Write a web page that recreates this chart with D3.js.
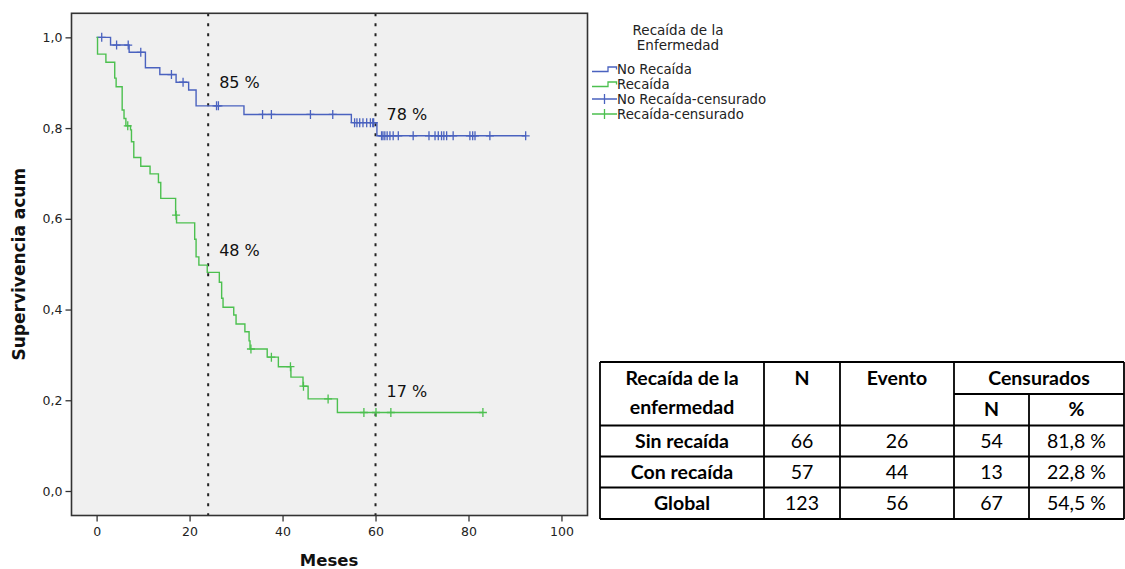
<!DOCTYPE html>
<html>
<head>
<meta charset="utf-8">
<script src="https://cdn.jsdelivr.net/npm/d3@7"></script>
<style>
  body { margin: 0; background: #ffffff; }
  svg { display: block; }
</style>
</head>
<body>
<div id="chart"></div>
<script>
// ---- data ----
const noRecaidaTimes = [0, 3.0, 7.0, 10.5, 13.6, 17.1, 19.8, 21.4, 31.7, 54.8, 60.3];
const noRecaidaSurv  = [1.0, 0.983, 0.967, 0.933, 0.918, 0.901, 0.884, 0.849, 0.830, 0.812, 0.783];
const noRecaidaEnd = 92.3;
const noRecaidaCens = [1.1, 4.3, 6.8, 9.5, 16.1, 18.6, 25.8, 26.2, 35.7, 37.6, 46.0, 50.8,
  55.5, 56.0, 56.6, 57.3, 58.1, 58.9, 59.4, 59.6, 61.3, 61.6, 62.0, 62.5, 63.1, 63.8, 64.9,
  68.1, 71.5, 72.8, 73.5, 74.2, 74.7, 75.3, 76.7, 80.3, 80.9, 81.4, 84.6, 92.3];

const recaidaTimes = [0, 0.2, 2.0, 3.9, 4.2, 5.5, 5.9, 6.3, 7.3, 7.5, 8.0, 9.5, 11.5, 13.3, 13.8,
  17.0, 17.2, 21.1, 21.4, 22.0, 23.8, 26.4, 26.9, 27.2, 29.5, 30.0, 31.9, 32.8, 33.0, 36.7,
  39.1, 41.8, 44.4, 45.5, 51.8];
const recaidaSurv = [1.0, 0.963, 0.945, 0.910, 0.891, 0.840, 0.821, 0.805, 0.796, 0.770, 0.735,
  0.716, 0.699, 0.680, 0.645, 0.608, 0.591, 0.555, 0.516, 0.498, 0.482, 0.460, 0.425, 0.405,
  0.388, 0.368, 0.351, 0.331, 0.313, 0.295, 0.274, 0.251, 0.231, 0.203, 0.173];
const recaidaEnd = 83.1;
const recaidaCens = [6.7, 17.1, 33.2, 37.6, 41.7, 44.5, 49.8, 57.5, 60.1, 63.3, 83.1];

const xTicks = [0, 20, 40, 60, 80, 100];
const yTicks = [0, 0.2, 0.4, 0.6, 0.8, 1.0];
const refMonths = [24, 60];
const annotations = [
  {t: 24, s: 0.85, label: "85 %"},
  {t: 60, s: 0.78, label: "78 %"},
  {t: 24, s: 0.48, label: "48 %"},
  {t: 60, s: 0.17, label: "17 %"}
];

const legendTitle = ["Recaída de la", "Enfermedad"];
const legendLabels = ["No Recaída", "Recaída", "No Recaída-censurado", "Recaída-censurado"];

const tableGroups = ["Sin recaída", "Con recaída", "Global"];
const tableN = [66, 57, 123];
const tableEvento = [26, 44, 56];
const tableCensN = [54, 13, 67];
const tableCensPct = ["81,8 %", "22,8 %", "54,5 %"];

// ---- setup ----
const width = 1125, height = 569;
const margin = {top: 13.3, left: 71.5};
const plotWidth = 516, plotHeight = 502.2;
const BLUE = "#4a62bf", GREEN = "#4cc04f";
const FONT = "'DejaVu Sans', sans-serif";

const svg = d3.select("#chart").append("svg")
    .attr("width", width)
    .attr("height", height);

const xScale = d3.scaleLinear().domain([-5.4, 105.6]).range([0, plotWidth]);
const yScale = d3.scaleLinear().domain([-0.054, 1.053]).range([plotHeight, 0]);

const plot = svg.append("g")
    .attr("transform", `translate(${margin.left}, ${margin.top})`);

plot.append("rect")
    .attr("width", plotWidth)
    .attr("height", plotHeight)
    .attr("fill", "#f0f0f0");

// axes
const fmtComma = d => d3.format(".1f")(d).replace(".", ",");

plot.append("g")
    .attr("transform", `translate(0, ${plotHeight})`)
    .call(d3.axisBottom(xScale).tickValues(xTicks).tickSize(6).tickPadding(6).tickFormat(d3.format("d")))
    .call(g => g.select(".domain").remove())
    .call(g => g.selectAll("line").attr("stroke", "#333").attr("stroke-width", 1.3))
    .call(g => g.selectAll("text").attr("fill", "#222").style("font-family", FONT).style("font-size", "12.5px"));

plot.append("g")
    .call(d3.axisLeft(yScale).tickValues(yTicks).tickSize(6).tickPadding(3).tickFormat(fmtComma))
    .call(g => g.select(".domain").remove())
    .call(g => g.selectAll("line").attr("stroke", "#333").attr("stroke-width", 1.3))
    .call(g => g.selectAll("text").attr("fill", "#222").style("font-family", FONT).style("font-size", "12.5px"));

// reference lines
plot.selectAll(".refLine")
    .data(refMonths)
    .enter()
    .append("line")
    .attr("class", "refLine")
    .attr("x1", d => xScale(d)).attr("x2", d => xScale(d))
    .attr("y1", 0).attr("y2", plotHeight)
    .attr("stroke", "#222")
    .attr("stroke-width", 2)
    .attr("stroke-dasharray", "3,7");

// ---- curves ----
function stepPoints(times, surv, end) {
    const pts = times.map((t, i) => [t, surv[i]]);
    pts.push([end, surv[surv.length - 1]]);
    return pts;
}
function survAt(times, surv, t) {
    let s = surv[0];
    times.forEach((tt, i) => { if (tt <= t) s = surv[i]; });
    return s;
}

const line = d3.line()
    .x(d => xScale(d[0]))
    .y(d => yScale(d[1]))
    .curve(d3.curveStepAfter);

const series = [
    {times: noRecaidaTimes, surv: noRecaidaSurv, end: noRecaidaEnd, cens: noRecaidaCens, color: BLUE},
    {times: recaidaTimes, surv: recaidaSurv, end: recaidaEnd, cens: recaidaCens, color: GREEN}
];

series.forEach(s => {
    plot.append("path")
        .datum(stepPoints(s.times, s.surv, s.end))
        .attr("d", line)
        .attr("fill", "none")
        .attr("stroke", s.color)
        .attr("stroke-width", 1.4);

    plot.selectAll(null)
        .data(s.cens)
        .enter()
        .append("path")
        .attr("transform", d => `translate(${xScale(d)}, ${yScale(survAt(s.times, s.surv, d))})`)
        .attr("d", "M-4,0H4M0,-4.5V4.5")
        .attr("stroke", s.color)
        .attr("stroke-width", 1.3);
});

// frame
plot.append("rect")
    .attr("width", plotWidth)
    .attr("height", plotHeight)
    .attr("fill", "none")
    .attr("stroke", "#333")
    .attr("stroke-width", 1.6);

// annotations
plot.selectAll(".annot")
    .data(annotations)
    .enter()
    .append("text")
    .attr("class", "annot")
    .attr("x", d => xScale(d.t) + 11)
    .attr("y", d => yScale(d.s) - 17)
    .style("font-family", FONT)
    .style("font-size", "16px")
    .attr("fill", "#111")
    .text(d => d.label);

// axis titles
svg.append("text")
    .attr("x", margin.left + xScale(50))
    .attr("y", 566)
    .attr("text-anchor", "middle")
    .style("font-family", FONT)
    .style("font-weight", "bold")
    .style("font-size", "16.5px")
    .attr("fill", "#111")
    .text("Meses");

svg.append("text")
    .attr("transform", `translate(25, ${margin.top + yScale(0.5)}) rotate(-90)`)
    .attr("text-anchor", "middle")
    .style("font-family", FONT)
    .style("font-weight", "bold")
    .style("font-size", "17px")
    .attr("fill", "#111")
    .text("Supervivencia acum");

// ---- legend ----
const legend = svg.append("g");

legend.selectAll(".legTitle")
    .data(legendTitle)
    .enter()
    .append("text")
    .attr("x", 678)
    .attr("y", (d, i) => 35 + i * 15)
    .attr("text-anchor", "middle")
    .style("font-family", FONT)
    .style("font-size", "13.5px")
    .attr("fill", "#222")
    .text(d => d);

const legColors = [BLUE, GREEN, BLUE, GREEN];
legendLabels.forEach((lab, i) => {
    const cy = 69 + i * 15;
    const g = legend.append("g").attr("transform", `translate(592, ${cy})`);
    if (i < 2) {
        g.append("path")
            .attr("d", "M0,2.5H16V-2H24.5V0.5")
            .attr("fill", "none")
            .attr("stroke", legColors[i])
            .attr("stroke-width", 1.3);
    } else {
        g.append("path")
            .attr("d", "M0,0H25M12.5,-5V5")
            .attr("stroke", legColors[i])
            .attr("stroke-width", 1.3);
    }
    legend.append("text")
        .attr("x", 617)
        .attr("y", cy + 5)
        .style("font-family", FONT)
        .style("font-size", "13.3px")
        .attr("fill", "#222")
        .text(lab);
});

// ---- table ----
const table = svg.append("g");
const colX = [600, 764, 840, 954, 1029, 1124];
const rowY = [362, 394, 425.5, 456.5, 487.5, 519];
const TFONT = "Lato, 'Open Sans', sans-serif";

const tLine = (x1, y1, x2, y2) => table.append("line")
    .attr("x1", x1).attr("y1", y1).attr("x2", x2).attr("y2", y2)
    .attr("stroke", "#000").attr("stroke-width", 1.8);

// outer + grid
tLine(colX[0], rowY[0], colX[5], rowY[0]);
tLine(colX[3], rowY[1], colX[5], rowY[1]);
[2, 3, 4, 5].forEach(r => tLine(colX[0], rowY[r], colX[5], rowY[r]));
[0, 1, 2, 3, 5].forEach(c => tLine(colX[c], rowY[0], colX[c], rowY[5]));
tLine(colX[4], rowY[1], colX[4], rowY[5]);

const tText = (x, y, txt, bold) => table.append("text")
    .attr("x", x).attr("y", y)
    .attr("text-anchor", "middle")
    .style("font-family", TFONT)
    .style("font-size", "19.5px")
    .style("font-weight", bold ? "bold" : "normal")
    .attr("fill", "#000")
    .text(txt);

const mid = c => (colX[c] + colX[c + 1]) / 2;
tText(mid(0), 385, "Recaída de la", true);
tText(mid(0), 414, "enfermedad", true);
tText(mid(1), 385, "N", true);
tText(mid(2), 385, "Evento", true);
tText((colX[3] + colX[5]) / 2, 385, "Censurados", true);
tText(mid(3), 416, "N", true);
tText(mid(4), 416, "%", true);

tableGroups.forEach((g, i) => {
    const y = (rowY[i + 2] + rowY[i + 3]) / 2 + 7;
    tText(mid(0), y, g, true);
    tText(mid(1), y, tableN[i], false);
    tText(mid(2), y, tableEvento[i], false);
    tText(mid(3), y, tableCensN[i], false);
    tText(mid(4), y, tableCensPct[i], false);
});
</script>
</body>
</html>
